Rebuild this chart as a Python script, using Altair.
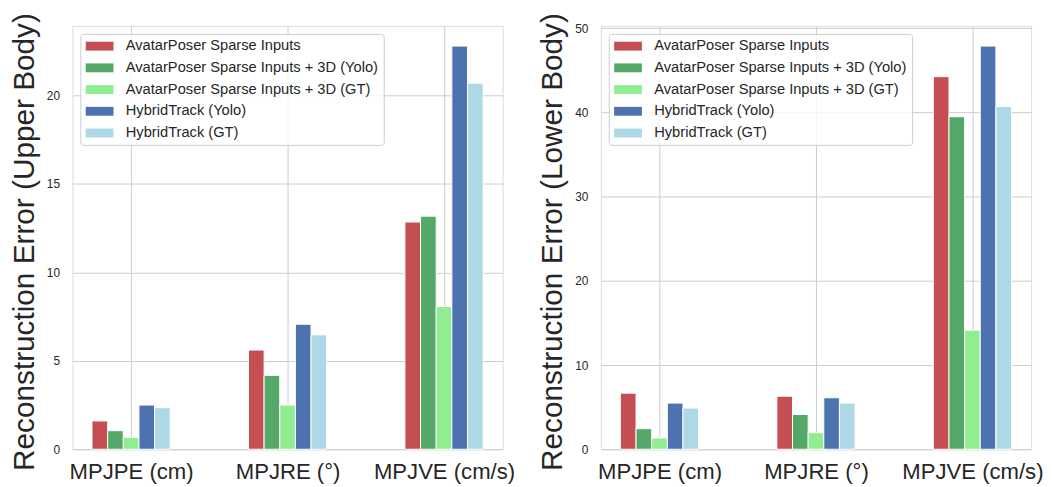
import json
import altair as alt
import pandas as pd

metrics = ["MPJPE (cm)", "MPJRE (°)", "MPJVE (cm/s)"]
methods = [
    "AvatarPoser Sparse Inputs",
    "AvatarPoser Sparse Inputs + 3D (Yolo)",
    "AvatarPoser Sparse Inputs + 3D (GT)",
    "HybridTrack (Yolo)",
    "HybridTrack (GT)",
]
colors = ["#C44E52", "#55A868", "#90EE90", "#4C72B0", "#ADD8E6"]

# Upper body reconstruction error (per metric)
upper_avatar = [1.60, 5.61, 12.85]
upper_avatar_yolo = [1.05, 4.18, 13.18]
upper_avatar_gt = [0.68, 2.50, 8.07]
upper_hybrid_yolo = [2.50, 7.07, 22.80]
upper_hybrid_gt = [2.35, 6.47, 20.70]

# Lower body reconstruction error (per metric)
lower_avatar = [6.66, 6.30, 44.25]
lower_avatar_yolo = [2.44, 4.13, 39.49]
lower_avatar_gt = [1.34, 1.97, 14.14]
lower_hybrid_yolo = [5.48, 6.11, 47.88]
lower_hybrid_gt = [4.89, 5.48, 40.71]

upper_ticks = [0, 5, 10, 15, 20]
lower_ticks = [0, 10, 20, 30, 40, 50]

FONT = "Liberation Sans"
TXT = "#262626"


def build_df(series):
    rows = []
    for si, vals in enumerate(series):
        for mi, v in enumerate(vals):
            rows.append({"mi": mi, "si": si, "method": methods[si], "value": v})
    return pd.DataFrame(rows)


df_upper = build_df([upper_avatar, upper_avatar_yolo, upper_avatar_gt,
                     upper_hybrid_yolo, upper_hybrid_gt])
df_lower = build_df([lower_avatar, lower_avatar_yolo, lower_avatar_gt,
                     lower_hybrid_yolo, lower_hybrid_gt])

label_expr = json.dumps(metrics) + "[datum.value]"


def panel(df, title, ticks, title_x):
    ymax = max(df["value"]) * 1.05
    return (
        alt.Chart(df)
        .transform_calculate(
            x0="datum.mi + (datum.si - 2) * 0.1 - 0.05",
            x1="datum.mi + (datum.si - 2) * 0.1 + 0.05",
            base="0",
        )
        .mark_rect(stroke="white", strokeWidth=1, opacity=1)
        .encode(
            x=alt.X(
                "x0:Q",
                scale=alt.Scale(domain=[-0.375, 2.375], nice=False, zero=False),
                axis=alt.Axis(
                    values=[0, 1, 2],
                    labelExpr=label_expr,
                    title=None,
                    ticks=False,
                    domain=False,
                    grid=True,
                    gridColor="#cccccc",
                    gridWidth=1,
                    labelFontSize=22.3,
                    labelFont=FONT,
                    labelColor=TXT,
                    labelPadding=12,
                    labelOverlap=False,
                    labelFlush=False,
                ),
            ),
            x2="x1:Q",
            y=alt.Y(
                "value:Q",
                scale=alt.Scale(domain=[0, ymax], nice=False),
                axis=alt.Axis(
                    values=ticks,
                    title=title,
                    titleFontSize=30,
                    titleFont=FONT,
                    titleFontWeight="normal",
                    titleColor=TXT,
                    titleX=title_x,
                    titleY=217.5,
                    titleAlign="center",
                    titleBaseline="bottom",
                    titleAngle=270,
                    ticks=False,
                    domain=False,
                    grid=True,
                    gridColor="#cccccc",
                    gridWidth=1,
                    labelFontSize=12,
                    labelFont=FONT,
                    labelColor=TXT,
                    labelPadding=13,
                ),
            ),
            y2="base:Q",
            color=alt.Color(
                "method:N",
                sort=methods,
                scale=alt.Scale(domain=methods, range=colors),
                legend=alt.Legend(
                    title=None,
                    orient="top-left",
                    offset=8,
                    padding=5,
                    strokeColor="#cccccc",
                    fillColor="rgba(255,255,255,0.8)",
                    cornerRadius=3,
                    symbolType="M-2,-0.64L2,-0.64L2,0.64L-2,0.64Z",
                    symbolSize=196,
                    symbolOffset=7,
                    symbolStrokeWidth=0,
                    symbolOpacity=1,
                    labelFontSize=14.8,
                    labelFont=FONT,
                    labelColor=TXT,
                    labelOffset=19,
                    labelLimit=400,
                    rowPadding=5.9,
                ),
            ),
        )
        .properties(width=434, height=427)
    )


left = panel(df_upper, "Reconstruction Error (Upper Body)", upper_ticks, -33.7)
right = panel(df_lower, "Reconstruction Error (Lower Body)", lower_ticks, -33.7)

chart = (
    alt.hconcat(left, right, spacing=21)
    .resolve_scale(x="independent", y="independent", color="independent")
    .resolve_legend(color="independent")
    .configure_view(stroke="#262626", strokeWidth=1.25)
    .configure(font=FONT)
    .properties(padding={"left": 0, "top": 2, "right": 0, "bottom": 0})
)

chart.save("out.html", embed_options={"renderer": "svg", "actions": False})
